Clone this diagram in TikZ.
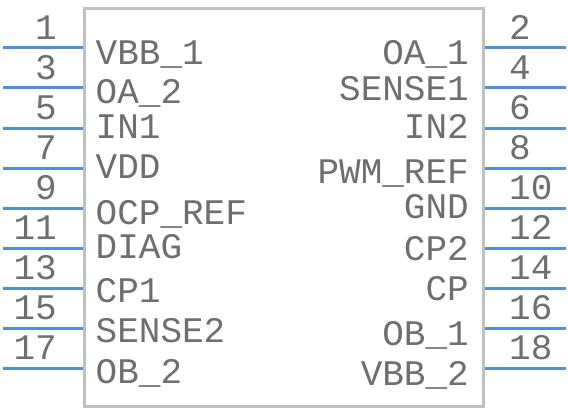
\documentclass[tikz,border=0pt]{standalone}
\usepackage{fontspec}
\setmonofont{Liberation Mono}
\definecolor{pinblue}{HTML}{4A8FE6}
\definecolor{bodygray}{HTML}{C0C0C0}
\definecolor{txtgray}{HTML}{6E6E6E}
\begin{document}
\begin{tikzpicture}[x=1pt,y=-1pt,
  pinline/.style={draw=pinblue,line width=3pt},
  body/.style={draw=bodygray,line width=3pt},
  lbl/.style={inner sep=0pt,text=txtgray,font=\ttfamily\fontsize{36}{36}\selectfont},
  llbl/.style={lbl,anchor=base west},
  rlbl/.style={lbl,anchor=base east},
  lnum/.style={lbl,anchor=base east},
  rnum/.style={lbl,anchor=base west}]
\useasboundingbox (0,0) rectangle (568,412);
\draw[body] (84.5,8.7) rectangle (483,406);
% left pins
\foreach \n/\k in {1/0,3/1,5/2,7/3,9/4,11/5,13/6,15/7,17/8}{
  \coordinate (L\n a) at (3,48+40*\k);
  \coordinate (L\n b) at (83,48+40*\k);
  \draw[pinline] (L\n a) -- (L\n b);
  \node[lnum] (N\n) at (57,39.5+40*\k) {\n};
}
\foreach \n/\k in {2/0,4/1,6/2,8/3,10/4,12/5,14/6,16/7,18/8}{
  \coordinate (R\n a) at (485,48+40*\k);
  \coordinate (R\n b) at (566,48+40*\k);
  \draw[pinline] (R\n a) -- (R\n b);
  \node[rnum] (N\n) at (509,39.5+40*\k) {\n};
}
% left labels
\node[llbl] (t1) at (95.5,65) {VBB\_1};
\node[llbl] (t3) at (95.5,103) {OA\_2};
\node[llbl] (t5) at (95.5,139) {IN1};
\node[llbl] (t7) at (95.5,178) {VDD};
\node[llbl] (t9) at (95.5,224) {OCP\_REF};
\node[llbl] (t11) at (95.5,258) {DIAG};
\node[llbl] (t13) at (95.5,302) {CP1};
\node[llbl] (t15) at (95.5,342) {SENSE2};
\node[llbl] (t17) at (95.5,383) {OB\_2};
% right labels
\node[rlbl] (t2) at (469,65) {OA\_1};
\node[rlbl] (t4) at (469,100) {SENSE1};
\node[rlbl] (t6) at (469,139) {IN2};
\node[rlbl] (t8) at (469,183) {PWM\_REF};
\node[rlbl] (t10) at (469,218) {GND};
\node[rlbl] (t12) at (469,260) {CP2};
\node[rlbl] (t14) at (469,300) {CP};
\node[rlbl] (t16) at (469,345) {OB\_1};
\node[rlbl] (t18) at (469,385) {VBB\_2};
\end{tikzpicture}
\end{document}
